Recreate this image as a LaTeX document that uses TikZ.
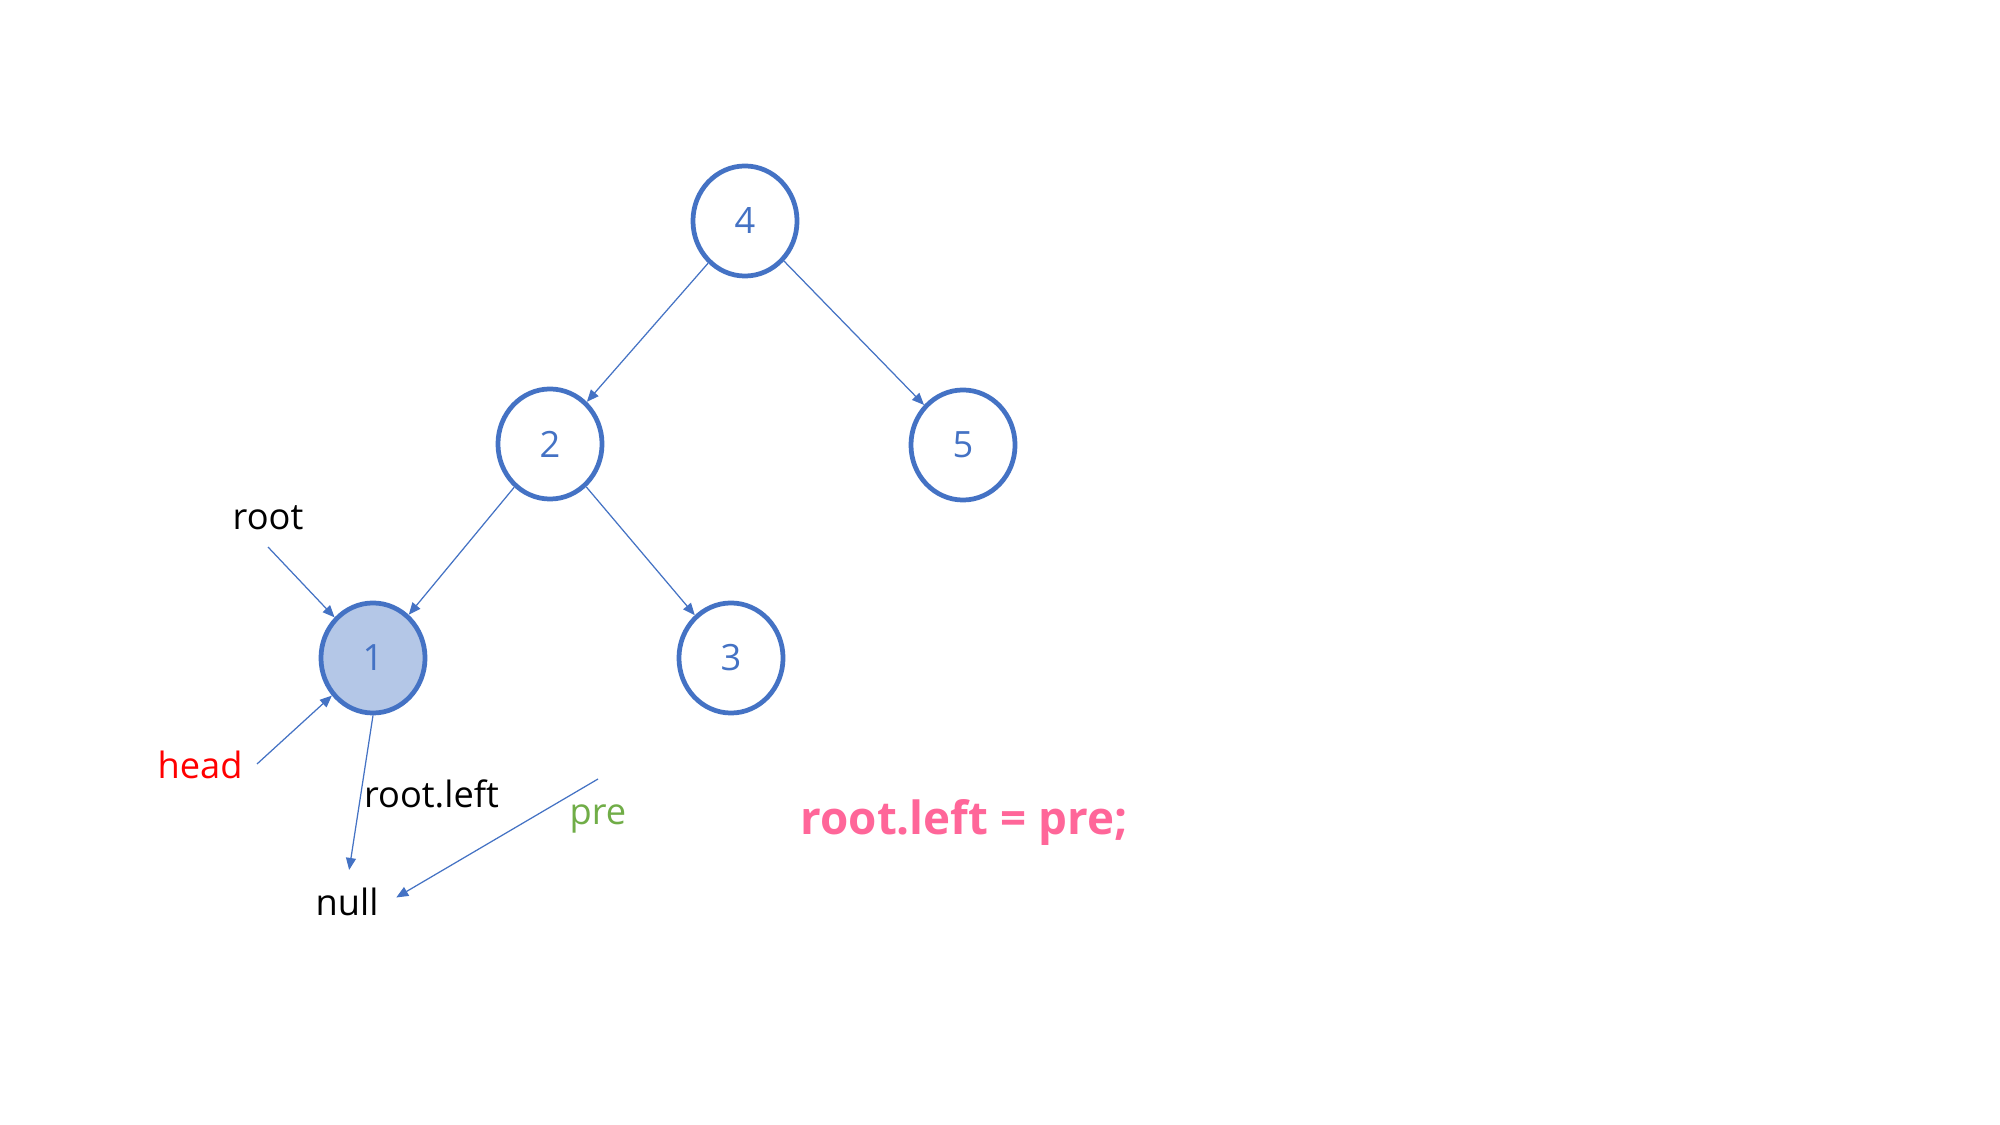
\documentclass[tikz,border=0pt]{standalone}
\usepackage{fontspec}
\setmainfont{Open Sans}
\usepackage{tikz}
\usetikzlibrary{arrows.meta,positioning,shapes.geometric}
\definecolor{treeblue}{HTML}{4472C4}
\definecolor{headfill}{HTML}{B4C7E7}
\definecolor{pregreen}{HTML}{70AD47}
\definecolor{codepink}{HTML}{FF6699}

\begin{document}
\begin{tikzpicture}[
  x=0.01cm,y=-0.01cm,
  font=\fontsize{10.3}{12}\selectfont,
  tn/.style={ellipse,draw=treeblue,line width=1.35pt,minimum width=1.04cm,
             minimum height=1.1cm,inner sep=0pt,text=treeblue,fill=white},
  arr/.style={-{Triangle[length=1.2mm,width=1mm]},treeblue,line width=0.35pt},
  lab/.style={inner sep=1pt,text=black}
]
\fill[white] (0,0) rectangle (2000,1125);
% tree
\node[tn] (n4) at (745,221) {4};
\node[tn] (n2) at (550,444) {2};
\node[tn] (n5) at (963,445) {5};
\node[tn,fill=headfill] (n1) at (373,658) {1};
\node[tn] (n3) at (731,658) {3};
\draw[arr] (n4) -- (n2);
\draw[arr] (n4) -- (n5);
\draw[arr] (n2) -- (n1);
\draw[arr] (n2) -- (n3);

% pointers
\node[lab] (root) at (268,518) {root};
\node[lab,text=red] (head) at (200,765) {head};
\node[lab] (null) at (347,902) {null};
\node[lab,text=pregreen] (pre) at (598,819) {pre};
\coordinate (roottail) at (268,547);
\coordinate (headtail) at (257,764);
\coordinate (pretail) at (598,779);
\draw[arr] (roottail) -- (n1);
\draw[arr] (headtail) -- (n1);
\draw[arr,shorten >=4pt] (n1.south) -- node[lab,right,yshift=1.5pt]{root.left} (null.north);
\draw[arr,shorten >=4.5pt] (pretail) -- ([yshift=-1pt]null.east);

\node[font=\fontsize{13}{15}\selectfont\bfseries,text=codepink] (code) at (964,823) {root.left = pre;};
\end{tikzpicture}
\end{document}
